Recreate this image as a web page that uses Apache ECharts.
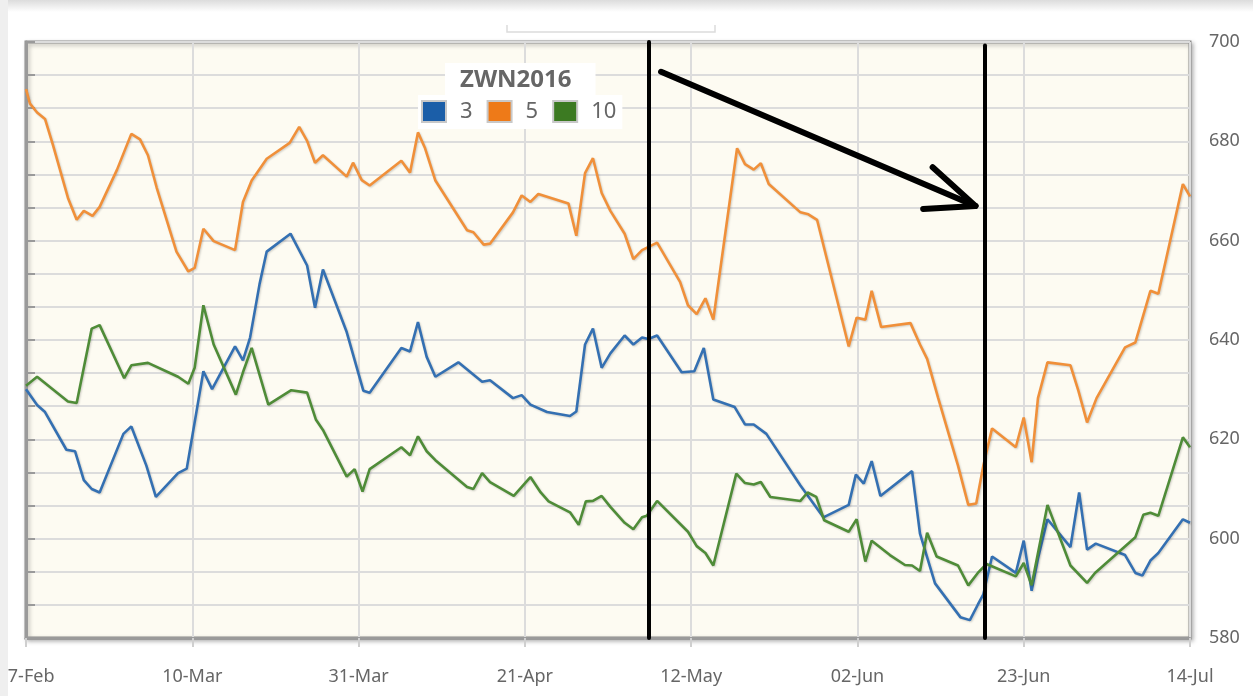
<!DOCTYPE html>
<html>
<head>
<meta charset="utf-8">
<title>ZWN2016</title>
<script src="https://cdn.jsdelivr.net/npm/echarts@6/dist/echarts.min.js"></script>
<style>
  html, body { margin: 0; padding: 0; background: #fff; }
  #chart { width: 1253px; height: 696px; }
</style>
</head>
<body>
<div id="chart"></div>
<script>
// x values are calendar days counted from 17-Feb, ticks every 21 days
const xTickLabels = ['17-Feb', '10-Mar', '31-Mar', '21-Apr', '12-May', '02-Jun', '23-Jun', '14-Jul']

// series "3"
const s3Days = [0, 1.4, 2.4, 5.1, 6.2, 7.3, 8.3, 9.3, 12.3, 13.3, 15.2, 16.4, 19.2, 20.3, 22.4, 23.5, 26.4, 27.4, 28.3, 29.5,
  30.4, 33.4, 35.5, 36.5, 37.5, 40.5, 42.6, 43.4, 47.4, 48.5, 49.5, 50.6, 51.7, 54.6, 57.6, 58.6, 61.5, 62.6, 63.7, 65.8,
  68.7, 69.5, 70.6, 71.6, 72.7, 73.8, 75.6, 76.7, 77.8, 78.6, 79.7, 82.8, 84.4, 85.6, 86.8, 89.5, 90.8, 91.9, 93.5, 97.8,
  100.7, 103.9, 104.8, 105.8, 106.8, 107.9, 111.9, 112.9, 114.8, 118.0, 119.2, 120.2, 120.9, 122.0, 125.0, 126.0, 127.0, 127.8, 129.0, 131.9,
  133.0, 134.0, 135.1, 138.8, 140.1, 141.0, 142.0, 143.0, 146.1, 147.0]
const s3Vals = [630.1, 626.9, 625.5, 617.9, 617.6, 611.8, 610.0, 609.3, 621.1, 622.6, 614.7, 608.4, 613.2, 614.1, 633.7, 630.1, 638.7, 635.9, 640.5, 651.3,
  657.8, 661.4, 655.0, 646.5, 654.2, 641.6, 629.8, 629.4, 638.4, 637.7, 643.6, 636.6, 632.6, 635.5, 631.6, 631.9, 628.3, 628.9, 627.0, 625.5,
  624.7, 625.6, 639.1, 642.3, 634.4, 637.3, 640.9, 639.1, 640.5, 640.2, 640.9, 633.5, 633.7, 638.4, 628.0, 626.5, 623.0, 623.0, 621.1, 610.7,
  604.3, 606.8, 612.9, 611.1, 615.6, 608.6, 613.6, 601.0, 591.0, 584.2, 583.6, 586.7, 588.8, 596.4, 593.1, 599.6, 589.5, 596.0, 603.9, 598.3,
  609.3, 597.8, 599.0, 596.7, 593.1, 592.6, 595.6, 597.1, 603.9, 603.2]

// series "5"
const s5Days = [0, 0.5, 1.4, 2.4, 3.4, 5.3, 6.4, 7.3, 8.4, 9.3, 11.5, 13.3, 14.4, 15.4, 16.5, 19.0, 20.5, 21.3, 22.4, 23.7,
  26.4, 27.4, 28.5, 30.4, 33.3, 34.5, 35.5, 36.5, 37.5, 40.5, 41.3, 42.4, 43.4, 47.4, 48.5, 49.5, 50.4, 51.7, 55.7, 56.5,
  57.8, 58.6, 61.5, 62.6, 63.7, 64.7, 68.5, 69.5, 70.6, 71.6, 72.7, 73.8, 75.6, 76.7, 77.8, 79.7, 82.6, 83.6, 84.7, 85.8,
  86.8, 89.8, 90.8, 91.9, 92.8, 93.8, 97.8, 98.8, 99.9, 103.9, 104.9, 106.0, 106.8, 108.0, 111.7, 112.9, 113.8, 115.2, 117.7, 119.0,
  120.0, 120.9, 122.0, 125.0, 126.0, 127.0, 127.8, 129.0, 131.9, 132.9, 134.0, 135.2, 138.8, 140.1, 142.0, 143.0, 146.1, 147.0]
const s5Vals = [690.5, 687.6, 685.8, 684.5, 679.3, 668.6, 664.2, 666.0, 665.0, 666.8, 674.3, 681.5, 680.4, 677.2, 670.7, 657.8, 653.8, 654.5, 662.4, 659.9,
  658.1, 667.8, 672.1, 676.5, 679.7, 682.9, 680.1, 675.7, 677.2, 672.9, 675.7, 672.2, 671.1, 676.1, 673.7, 681.8, 678.6, 672.1, 662.1, 661.7,
  659.2, 659.4, 665.7, 669.1, 667.8, 669.4, 667.5, 661.0, 673.6, 676.6, 669.6, 666.0, 661.4, 656.3, 658.1, 659.6, 651.7, 647.0, 645.2, 648.4,
  644.1, 678.6, 675.4, 674.3, 675.6, 671.4, 665.7, 665.3, 664.2, 638.7, 644.5, 644.1, 649.9, 642.6, 643.4, 639.1, 636.2, 628.3, 614.7, 606.8,
  607.1, 614.7, 622.2, 618.4, 624.4, 615.4, 628.3, 635.5, 634.9, 629.8, 623.4, 628.3, 638.5, 639.5, 649.9, 649.3, 671.4, 668.9]

// series "10"
const s10Days = [0, 1.4, 5.3, 6.4, 8.3, 9.3, 12.4, 13.3, 15.4, 19.2, 20.5, 21.3, 22.4, 23.7, 26.5, 27.4, 28.5, 30.6, 33.5, 35.5,
  36.6, 37.5, 40.5, 41.5, 42.5, 43.4, 47.4, 48.5, 49.5, 50.6, 51.7, 55.7, 56.5, 57.6, 58.6, 61.6, 63.7, 65.0, 66.0, 68.7,
  69.8, 70.7, 71.6, 72.7, 73.8, 75.6, 76.7, 77.8, 78.4, 79.7, 83.6, 84.7, 85.8, 86.8, 89.7, 90.8, 91.9, 92.8, 94.0, 97.8,
  98.7, 99.8, 100.8, 103.9, 104.9, 106.0, 106.8, 109.1, 111.0, 111.9, 112.9, 113.8, 115.0, 117.7, 119.0, 120.2, 121.3, 125.0, 126.0, 127.0,
  129.0, 131.9, 134.0, 135.0, 140.1, 141.1, 142.0, 143.0, 146.1, 147.0]
const s10Vals = [630.8, 632.6, 627.6, 627.3, 642.3, 643.0, 632.3, 634.9, 635.4, 632.6, 631.2, 634.4, 647.0, 639.1, 629.0, 633.5, 638.4, 627.0, 629.9, 629.4,
  624.0, 621.9, 612.5, 614.0, 609.5, 614.0, 618.4, 616.8, 620.6, 617.6, 615.8, 610.4, 610.0, 613.2, 611.4, 608.6, 612.4, 609.3, 607.5, 605.3,
  602.8, 607.5, 607.6, 608.6, 606.4, 603.2, 601.9, 604.3, 604.6, 607.6, 601.4, 598.5, 597.1, 594.6, 613.1, 611.2, 610.9, 611.4, 608.4, 607.6,
  609.3, 608.4, 603.7, 601.4, 603.9, 595.4, 599.6, 596.7, 594.7, 594.6, 593.5, 601.2, 596.4, 594.6, 590.6, 593.1, 594.9, 592.4, 595.1, 590.6,
  606.8, 594.6, 591.1, 593.1, 600.3, 604.8, 605.2, 604.6, 620.4, 618.4]

// hand drawn annotations (day, price)
const markerDays = [78.6, 121.1]
const arrowShaft = [[80.2, 694.0], [119.9, 667.0]]
const arrowHeadTop = [114.5, 674.8]
const arrowHeadBottom = [113.3, 666.4]

const toPairs = (days, vals) => days.map((d, i) => [d, vals[i]])

const labelFont = 'Noto Sans'
const lineShadow = {
  shadowColor: 'rgba(0,0,0,0.18)',
  shadowBlur: 2,
  shadowOffsetX: 1,
  shadowOffsetY: 1
}

let myChart = echarts.init(document.getElementById('chart'), null, { renderer: 'canvas' })
let option

const blackLine = (w) => ({ color: '#000', width: w, type: 'solid', cap: 'round', opacity: 1 })

option = {
  animation: false,
  backgroundColor: '#fff',
  title: {
    text: 'ZWN2016',
    left: 445,
    top: 63,
    padding: [5, 24, 5, 15],
    backgroundColor: '#fff',
    textStyle: {
      fontFamily: labelFont,
      fontSize: 24,
      fontWeight: 'bold',
      color: '#666'
    }
  },
  legend: {
    left: 418,
    top: 95,
    padding: [5, 6, 6, 3],
    backgroundColor: '#fff',
    itemWidth: 24,
    itemHeight: 21,
    itemGap: 14,
    icon: 'rect',
    itemStyle: { borderColor: '#c8c8c8', borderWidth: 2 },
    textStyle: {
      fontFamily: labelFont,
      fontSize: 22,
      color: '#666',
      padding: [0, 0, 0, 9]
    },
    data: ['3', '5', '10']
  },
  graphic: [
    {
      type: 'rect',
      shape: { x: 0, y: 0, width: 1253, height: 12 },
      style: {
        fill: new echarts.graphic.LinearGradient(0, 0, 0, 1, [
          { offset: 0, color: '#dcdcdc' },
          { offset: 1, color: '#ffffff' }
        ])
      },
      z: 100
    },
    {
      type: 'rect',
      shape: { x: 0, y: 0, width: 8, height: 696 },
      style: { fill: '#efefef' },
      z: 100
    },
    {
      type: 'polyline',
      shape: { points: [[507, 25], [507, 32], [715, 32], [715, 25]] },
      style: { stroke: '#dcdcdc', lineWidth: 1.5, fill: null },
      z: 100
    }
  ],
  grid: {
    left: 26,
    right: 63,
    top: 42,
    bottom: 58,
    outerBoundsMode: 'none',
    show: true,
    backgroundColor: '#fdfbf2',
    borderColor: '#8e8e8e',
    borderWidth: 3,
    shadowColor: 'rgba(0,0,0,0.25)',
    shadowBlur: 4,
    shadowOffsetX: 2,
    shadowOffsetY: 2
  },
  xAxis: {
    type: 'value',
    min: 0,
    max: 147,
    interval: 21,
    axisLine: { show: true, onZero: false, lineStyle: { color: '#9a9a9a', width: 3 } },
    axisTick: { show: true, length: 9, lineStyle: { color: '#cfcfcf', width: 2 } },
    axisLabel: {
      margin: 30,
      fontFamily: labelFont,
      fontSize: 18,
      color: '#666',
      formatter: function (v) {
        return xTickLabels[Math.round(v / 21)]
      }
    },
    splitLine: { show: true, lineStyle: { color: '#dcdcdc', width: 2 } }
  },
  yAxis: {
    type: 'value',
    position: 'right',
    min: 580,
    max: 700,
    interval: 20,
    axisLine: { show: true, lineStyle: { color: '#9a9a9a', width: 3 } },
    axisTick: { show: true, length: 9, lineStyle: { color: '#9a9a9a', width: 2 } },
    minorTick: { show: true, splitNumber: 3, length: 9, lineStyle: { color: '#9a9a9a', width: 2 } },
    axisLabel: {
      margin: 19,
      fontFamily: labelFont,
      fontSize: 18,
      color: '#666'
    },
    splitLine: { show: true, lineStyle: { color: '#dcdcdc', width: 2 } },
    minorSplitLine: { show: true, lineStyle: { color: '#dcdcdc', width: 2 } }
  },
  series: [
    {
      name: '3',
      type: 'line',
      showSymbol: false,
      symbol: 'none',
      itemStyle: { color: '#1b5ea8' },
      lineStyle: Object.assign({ color: '#3470b2', width: 2.6 }, lineShadow),
      data: toPairs(s3Days, s3Vals)
    },
    {
      name: '5',
      type: 'line',
      showSymbol: false,
      symbol: 'none',
      itemStyle: { color: '#ee7a18' },
      lineStyle: Object.assign({ color: '#f0903a', width: 2.6 }, lineShadow),
      data: toPairs(s5Days, s5Vals)
    },
    {
      name: '10',
      type: 'line',
      showSymbol: false,
      symbol: 'none',
      itemStyle: { color: '#3c7a22' },
      lineStyle: Object.assign({ color: '#4f8c38', width: 2.6 }, lineShadow),
      data: toPairs(s10Days, s10Vals),
      markLine: {
        silent: true,
        symbol: ['none', 'none'],
        label: { show: false },
        emphasis: { disabled: true },
        data: [
          [{ coord: [markerDays[0], 700], lineStyle: blackLine(4) }, { coord: [markerDays[0], 580] }],
          [{ coord: [markerDays[1], 699.3], lineStyle: blackLine(4) }, { coord: [markerDays[1], 580] }],
          [{ coord: arrowShaft[0], lineStyle: blackLine(6) }, { coord: arrowShaft[1] }],
          [{ coord: arrowHeadTop, lineStyle: blackLine(6) }, { coord: arrowShaft[1] }],
          [{ coord: arrowHeadBottom, lineStyle: blackLine(6) }, { coord: arrowShaft[1] }]
        ]
      }
    }
  ]
}

option && myChart.setOption(option)
</script>
</body>
</html>
